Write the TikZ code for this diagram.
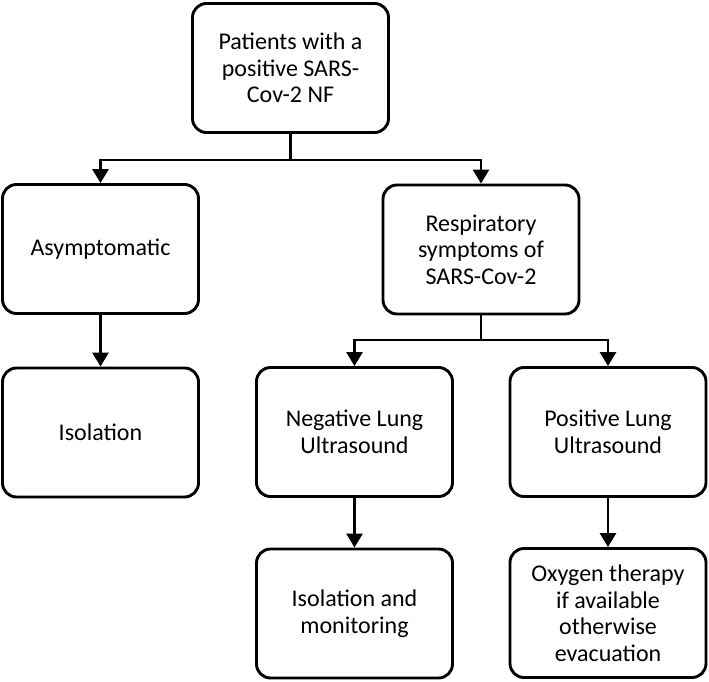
\documentclass[tikz,border=0pt]{standalone}
\usepackage{fontspec}
\setmainfont{Carlito}
\usetikzlibrary{arrows.meta}
\begin{document}
\begin{tikzpicture}[x=1pt,y=-1pt,
  box/.style={draw=black, line width=2.9pt, rounded corners=14pt, fill=white,
    minimum width=196pt, minimum height=129pt, align=center, inner sep=2pt,
    font=\fontsize{24}{26.5}\selectfont},
  arr/.style={line width=2.9pt, -{Triangle[width=16pt,length=14pt]}},
  ln/.style={line width=2.9pt}]
\useasboundingbox (0,0) rectangle (709,682);
\node[box] (top) at (290.5,68) {Patients with a\\positive SARS-\\Cov-2 NF};
\node[box] (asym) at (100.5,249) {Asymptomatic};
\node[box] (resp) at (481,249.5) {Respiratory\\symptoms of\\SARS-Cov-2};
\node[box] (iso) at (100.5,432.5) {Isolation};
\node[box] (neg) at (354.5,432) {Negative Lung\\Ultrasound};
\node[box] (pos) at (608,432) {Positive Lung\\Ultrasound};
\node[box] (isomon) at (354.5,613.5) {Isolation and\\monitoring};
\node[box] (oxy) at (608,613) {Oxygen therapy\\if available\\otherwise\\evacuation};
\coordinate (j1) at (290.5,160);
\coordinate (j2) at (481,340);
\draw[ln] (top.south) -- (j1);
\draw[arr] (j1) -| (asym.north);
\draw[arr] (j1) -| (resp.north);
\draw[arr] (asym.south) -- (iso.north);
\draw[ln] (resp.south) -- (j2);
\draw[arr] (j2) -| (neg.north);
\draw[arr] (j2) -| (pos.north);
\draw[arr] (neg.south) -- (isomon.north);
\draw[arr] (pos.south) -- (oxy.north);
\end{tikzpicture}
\end{document}
